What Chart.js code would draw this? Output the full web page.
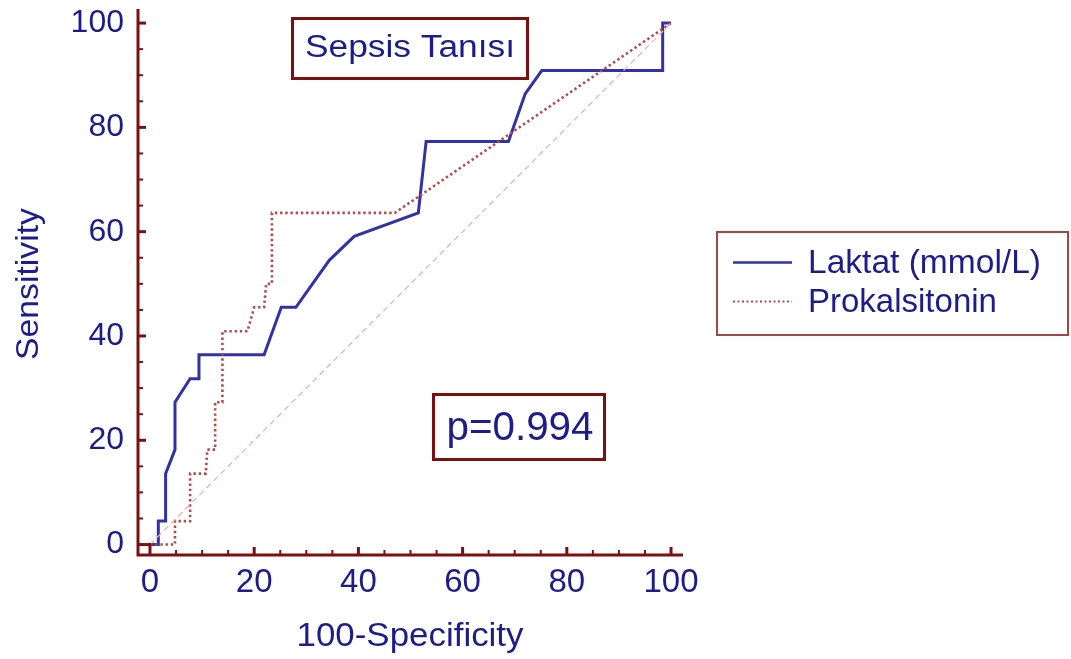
<!DOCTYPE html>
<html>
<head>
<meta charset="utf-8">
<script src="https://cdn.jsdelivr.net/npm/chart.js@4.4.1/dist/chart.umd.min.js"></script>
<style>
html,body{margin:0;padding:0;background:#fff;}
#wrap{width:1071px;height:659px;position:relative;}
</style>
</head>
<body>
<div id="wrap"><canvas id="c" width="1071" height="659"></canvas></div>
<script>
// ---- data ----
const laktatX = [0, 1.6, 1.6, 3.0, 3.0, 4.8, 4.8, 7.7, 9.4, 9.4, 21.9, 25.2, 28.0, 34.4, 39.2, 51.5, 53.0, 68.8, 72.0, 75.2, 98.4, 98.4, 100];
const laktatY = [0, 0, 4.5, 4.5, 13.6, 18.2, 27.3, 31.8, 31.8, 36.4, 36.4, 45.5, 45.5, 54.5, 59.1, 63.6, 77.3, 77.3, 86.4, 90.9, 90.9, 100, 100];
const prokX = [0, 4.8, 4.8, 7.7, 7.7, 10.7, 11.0, 12.5, 12.5, 13.9, 13.9, 18.7, 20.0, 21.9, 22.3, 23.4, 23.4, 47.0, 100];
const prokY = [0, 0, 4.5, 4.5, 13.6, 13.6, 18.2, 18.2, 27.3, 27.3, 40.9, 40.9, 45.5, 45.5, 50.0, 50.0, 63.6, 63.6, 100];
const refX = [0, 100];
const refY = [0, 100];
const xTicks = [0, 20, 40, 60, 80, 100];
const yTicks = [0, 20, 40, 60, 80, 100];
const seriesNames = ["Laktat (mmol/L)", "Prokalsitonin"];
const titleText = "Sepsis Tanısı";
const pText = "p=0.994";
const xTitle = "100-Specificity";
const yTitle = "Sensitivity";

const toPts = (xs, ys) => xs.map((x, i) => ({x: x, y: ys[i]}));

const NAVY = "#1c1c8a";
const BLUE = "#3232a6";
const AXIS = "#7a1010";
const DOT = "#b24a4a";
const FONT = "'Liberation Sans', Arial, sans-serif";

function textFit(ctx, txt, x, y, size, targetW, align) {
  ctx.save();
  ctx.font = size + "px " + FONT;
  const w = ctx.measureText(txt).width;
  const s = targetW ? targetW / w : 1;
  ctx.translate(x, y);
  ctx.scale(s, 1);
  ctx.textAlign = align || "center";
  ctx.fillText(txt, 0, 0);
  ctx.restore();
}

const decor = {
  id: "decor",
  afterDraw(chart) {
    const ctx = chart.ctx;
    const xs = chart.scales.x, ys = chart.scales.y;
    const a = chart.chartArea;
    ctx.save();
    // axes
    ctx.strokeStyle = AXIS;
    ctx.lineWidth = 3;
    ctx.lineCap = "butt";
    ctx.beginPath();
    ctx.moveTo(a.left, a.top);
    ctx.lineTo(a.left, a.bottom);
    ctx.lineTo(a.right, a.bottom);
    ctx.stroke();
    // ticks
    for (let v = 0; v <= 100; v += 5) {
      const major = v % 20 === 0;
      const len = major ? 8 : 5;
      const px = xs.getPixelForValue(v);
      const py = ys.getPixelForValue(v);
      ctx.lineWidth = major ? 3 : 2;
      ctx.beginPath();
      ctx.moveTo(px, a.bottom);
      ctx.lineTo(px, a.bottom - len - (v === 0 ? 4 : 0));
      ctx.stroke();
      ctx.beginPath();
      ctx.moveTo(a.left, py);
      ctx.lineTo(a.left + len + (v === 0 ? 4 : 0), py);
      ctx.stroke();
    }
    // tick labels
    ctx.fillStyle = NAVY;
    ctx.font = "32px " + FONT;
    ctx.textBaseline = "middle";
    ctx.textAlign = "right";
    yTicks.forEach(v => ctx.fillText(String(v), a.left - 14, ys.getPixelForValue(v)));
    ctx.font = "33px " + FONT;
    ctx.textAlign = "center";
    xTicks.forEach(v => ctx.fillText(String(v), xs.getPixelForValue(v), a.bottom + 28));
    // axis titles
    ctx.textBaseline = "alphabetic";
    textFit(ctx, xTitle, 410, 646, 34, 227, "center");
    ctx.save();
    ctx.translate(38, 284);
    ctx.rotate(-Math.PI / 2);
    textFit(ctx, yTitle, 0, 0, 31, 152, "center");
    ctx.restore();

    // title box
    ctx.strokeStyle = AXIS;
    ctx.lineWidth = 3;
    ctx.strokeRect(292.5, 18.5, 235, 60);
    ctx.fillStyle = NAVY;
    textFit(ctx, titleText, 410, 57, 31, 210, "center");

    // p box
    ctx.strokeRect(433.5, 394.5, 171, 65);
    textFit(ctx, pText, 520, 440, 40, 147, "center");

    // legend
    ctx.strokeStyle = "#a04848";
    ctx.lineWidth = 2;
    ctx.strokeRect(717, 232, 351, 103);
    ctx.strokeStyle = BLUE;
    ctx.lineWidth = 2.5;
    ctx.beginPath();
    ctx.moveTo(733, 262.5); ctx.lineTo(792, 262.5); ctx.stroke();
    ctx.strokeStyle = DOT;
    ctx.lineWidth = 2;
    ctx.setLineDash([2, 2.5]);
    ctx.beginPath();
    ctx.moveTo(733, 301.5); ctx.lineTo(792, 301.5); ctx.stroke();
    ctx.setLineDash([]);
    ctx.fillStyle = NAVY;
    textFit(ctx, seriesNames[0], 808, 273, 33, 233, "left");
    textFit(ctx, seriesNames[1], 808, 312, 33, null, "left");
    ctx.restore();
  }
};

new Chart(document.getElementById("c"), {
  type: "scatter",
  data: {
    datasets: [
      {label: "ref", data: toPts(refX, refY), showLine: true, borderColor: "#e6b0b0", borderWidth: 1.2, borderDash: [6, 4], pointRadius: 0, tension: 0},
      {label: seriesNames[1], data: toPts(prokX, prokY), showLine: true, borderColor: DOT, borderWidth: 2.6, borderDash: [2.4, 2.8], pointRadius: 0, tension: 0},
      {label: seriesNames[0], data: toPts(laktatX, laktatY), showLine: true, borderColor: BLUE, borderWidth: 3, pointRadius: 0, tension: 0}
    ]
  },
  options: {
    responsive: false,
    animation: false,
    devicePixelRatio: 1,
    layout: {padding: {left: 138, right: 388, top: 9, bottom: 104}},
    plugins: {legend: {display: false}, tooltip: {enabled: false}, title: {display: false}},
    scales: {
      x: {type: "linear", display: false, min: -2.3, max: 102.3},
      y: {type: "linear", display: false, min: -2.0, max: 102.7}
    }
  },
  plugins: [decor]
});
</script>
</body>
</html>
